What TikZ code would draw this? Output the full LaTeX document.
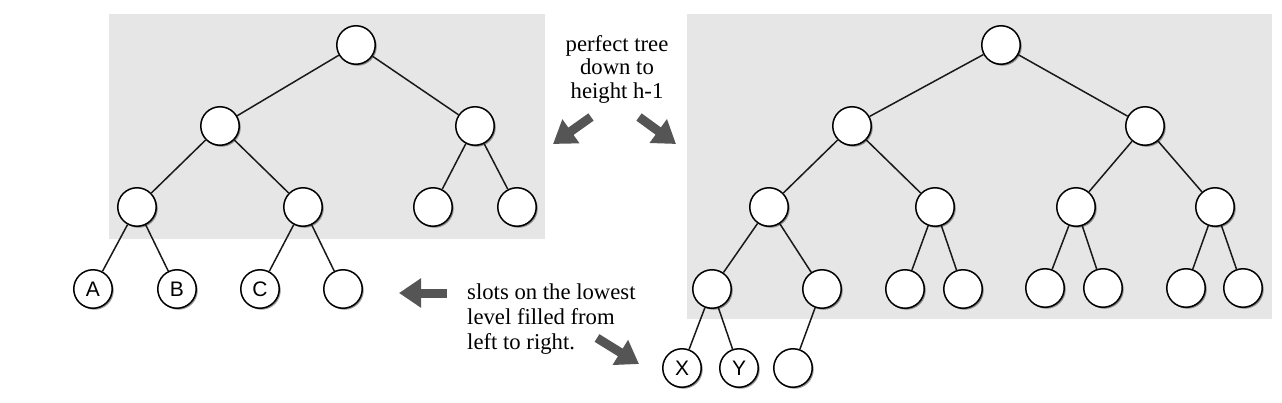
\documentclass[tikz,border=0pt]{standalone}
\usepackage{fontspec}
\setmainfont{Liberation Serif}
\newfontfamily\lblfont{Liberation Sans}
\usetikzlibrary{arrows.meta,shadows}
\definecolor{panelgray}{RGB}{230,230,230}
\definecolor{arrowgray}{RGB}{85,85,85}
\definecolor{edgecol}{RGB}{25,25,25}
\begin{document}
\begin{tikzpicture}[x=1pt,y=-1pt,
  tn/.style={circle, draw=black, line width=1.5pt, fill=white, minimum size=38.5pt, inner sep=0pt,
    font=\lblfont\fontsize{21}{21}\selectfont,
    drop shadow={shadow xshift=1.5pt, shadow yshift=-1.5pt, fill=black, opacity=0.4}},
  tedge/.style={draw=edgecol, line width=1.5pt},
  bigarrow/.style={draw=arrowgray, line width=9pt, -{Triangle[length=22pt,width=28pt]}},
  note/.style={font=\fontsize{22.7}{25}\selectfont, inner sep=0pt}]
\useasboundingbox (0,0) rectangle (1282,402);
% panels
\fill[panelgray] (109,14) rectangle (545,239);
\fill[panelgray] (687,14) rectangle (1272,319);

% left tree
\node[tn] (L0) at (356,45) {};
\node[tn] (L1a) at (220,126) {};
\node[tn] (L1b) at (475,126) {};
\node[tn] (L2a) at (137,207) {};
\node[tn] (L2b) at (303,207) {};
\node[tn] (L2c) at (433,207) {};
\node[tn] (L2d) at (517,207) {};
\node[tn] (LA) at (93,289) {A};
\node[tn] (LB) at (177,289) {B};
\node[tn] (LC) at (260,289) {C};
\node[tn] (LD) at (343,289) {};
\foreach \a/\b in {L0/L1a,L0/L1b,L1a/L2a,L1a/L2b,L1b/L2c,L1b/L2d,L2a/LA,L2a/LB,L2b/LC,L2b/LD}
  \draw[tedge] (\a) -- (\b);

% right tree
\node[tn] (R0) at (1001,45) {};
\node[tn] (R1a) at (852,126) {};
\node[tn] (R1b) at (1145,126) {};
\node[tn] (R2a) at (769,207) {};
\node[tn] (R2b) at (935,207) {};
\node[tn] (R2c) at (1076,207) {};
\node[tn] (R2d) at (1215,207) {};
\node[tn] (R3a) at (712,289) {};
\node[tn] (R3b) at (822,289) {};
\node[tn] (R3c) at (905,289) {};
\node[tn] (R3d) at (963,289) {};
\node[tn] (R3e) at (1045,288) {};
\node[tn] (R3f) at (1103,288) {};
\node[tn] (R3g) at (1186,288) {};
\node[tn] (R3h) at (1243,288) {};
\node[tn] (RX) at (682,368) {X};
\node[tn] (RY) at (739,368) {Y};
\node[tn] (RZ) at (793,368) {};
\foreach \a/\b in {R0/R1a,R0/R1b,R1a/R2a,R1a/R2b,R1b/R2c,R1b/R2d,
  R2a/R3a,R2a/R3b,R2b/R3c,R2b/R3d,R2c/R3e,R2c/R3f,R2d/R3g,R2d/R3h,
  R3a/RX,R3a/RY,R3b/RZ}
  \draw[tedge] (\a) -- (\b);

% notes
\node[note, align=center, anchor=north, font=\fontsize{22.7}{23.5}\selectfont] (top) at (617,35)
  {perfect tree\\down to\\height h-1};
\node[note, align=left, anchor=north west] (bot) at (467,284)
  {slots on the lowest\\level filled from\\left to right.};

% arrows
\coordinate (a1s) at (591,117); \coordinate (a1e) at (553,144);
\coordinate (a2s) at (639,117); \coordinate (a2e) at (676,144);
\coordinate (a3s) at (447,293); \coordinate (a3e) at (399,293);
\coordinate (a4s) at (597,338); \coordinate (a4e) at (639,364);
\draw[bigarrow] (a1s) -- (a1e);
\draw[bigarrow] (a2s) -- (a2e);
\draw[bigarrow] (a3s) -- (a3e);
\draw[bigarrow] (a4s) -- (a4e);
\end{tikzpicture}
\end{document}
